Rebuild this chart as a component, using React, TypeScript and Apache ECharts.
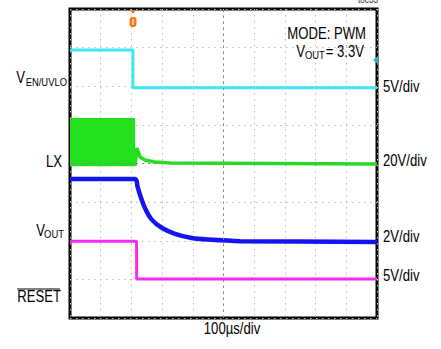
import React, { useEffect, useRef } from "react";
import * as echarts from "echarts";

// time in µs (100 µs/div), levels in screen divisions (0..8 from bottom)
const enUvlo: [number, number][] = [[0, 6.94], [205, 6.94], [205, 5.96], [1000, 5.96]];
const lxBase: [number, number][] = [[0, 3.99], [212, 3.99], [212, 3.94], [218, 4.4], [228, 4.17], [244, 4.09], [277, 4.04], [326, 4.01], [1000, 3.99]];
const lxBurst = { start: 0, end: 212, low: 3.93, high: 5.18 };
const vout: [number, number][] = [[0, 3.6], [212, 3.6], [220, 3.4], [228, 3.19], [244, 2.85], [267, 2.54], [300, 2.33], [342, 2.18], [397, 2.07], [450, 2.03], [554, 1.99], [1000, 1.97]];
const reset: [number, number][] = [[0, 1.99], [217, 1.99], [217, 1.01], [1000, 1.01]];

const FONT = "'Liberation Sans', Arial, sans-serif";
const SX = 0.82;

export default function App() {
  const ref = useRef<HTMLDivElement>(null);
  useEffect(() => {
    if (!ref.current) return;
    const chart = echarts.init(ref.current, null, { renderer: "svg" });
    const txt = (x: number, y: number, text: string, size: number, align: string, extra: any = {}) => ({
      type: "text",
      x,
      y,
      scaleX: SX,
      z: 20,
      style: { text, fontSize: size, fontFamily: FONT, fill: "#000", align, verticalAlign: "middle", ...extra },
    });
    chart.setOption({
      animation: false,
      backgroundColor: "#fff",
      grid: { left: 70, top: 9, width: 307, height: 309, show: true, borderColor: "#000", borderWidth: 3, backgroundColor: "#fff", z: 0 },
      xAxis: {
        type: "value", min: 0, max: 1000, interval: 100,
        axisLabel: { show: false }, axisLine: { show: false },
        axisTick: { show: false },
        splitLine: { show: true, lineStyle: { color: "#b8b8b8", width: 1, type: [1.5, 4.5] } },
      },
      yAxis: {
        type: "value", min: 0, max: 8, interval: 1,
        axisLabel: { show: false }, axisLine: { show: false },
        axisTick: { show: false },
        splitLine: { show: true, lineStyle: { color: "#b8b8b8", width: 1, type: [1.5, 4.5] } },
      },
      series: [
        {
          type: "line", data: [], silent: true,
          markLine: {
            symbol: "none", silent: true, label: { show: false },
            lineStyle: { color: "#8a8a8a", width: 1, type: [2, 4] },
            data: [{ xAxis: 500 }, { yAxis: 4 }],
          },
        },
        {
          name: "EN/UVLO", type: "line", data: enUvlo, symbol: "none", z: 3,
          lineStyle: { color: "#3de8f2", width: 3 },
        },
        {
          name: "LX", type: "line", data: lxBase, symbol: "none", z: 3,
          lineStyle: { color: "#22e01e", width: 3.5 },
          markArea: {
            silent: true,
            itemStyle: { color: "#22e01e", opacity: 1 },
            data: [[{ xAxis: lxBurst.start, yAxis: lxBurst.low }, { xAxis: lxBurst.end, yAxis: lxBurst.high }]],
          },
        },
        {
          name: "VOUT", type: "line", data: vout, symbol: "none", z: 4, smooth: 0.3,
          lineStyle: { color: "#1414f0", width: 4.5 },
        },
        {
          name: "RESET", type: "line", data: reset, symbol: "none", z: 3,
          lineStyle: { color: "#f52af5", width: 3 },
        },
      ],
      graphic: [
        // left labels
        txt(25, 78, "V", 16, "right"),
        txt(67, 82, "EN/UVLO", 11.5, "right"),
        txt(62, 162, "LX", 16, "right"),
        txt(45, 231, "V", 16, "right"),
        txt(64, 234, "OUT", 11.5, "right"),
        txt(61, 297, "RESET", 16, "right"),
        { type: "line", shape: { x1: 17, y1: 289, x2: 60, y2: 289 }, style: { stroke: "#000", lineWidth: 1 } },
        // right labels
        txt(383, 87, "5V/div", 16, "left"),
        txt(383, 161, "20V/div", 16, "left"),
        txt(383, 237, "2V/div", 16, "left"),
        txt(383, 276, "5V/div", 16, "left"),
        // bottom
        txt(232, 329, "100µs/div", 16, "center"),
        // top-right
        txt(366, 34, "MODE: PWM", 16, "right"),
        txt(305, 52, "V", 16, "right"),
        txt(305, 55, "OUT", 11.5, "left"),
        txt(364, 52, "= 3.3V", 16, "right"),
        txt(378, 0, "toc33", 10, "right", { fill: "#333" }),
        // trigger marker
        { type: "polygon", shape: { points: [[130, 10], [136, 10], [133, 14]] }, style: { fill: "#f07a1a" }, z: 10 },
        { type: "rect", shape: { x: 129.5, y: 17, width: 7, height: 10, r: 3 }, style: { fill: "#f07a1a" }, z: 10 },
        { type: "rect", shape: { x: 132.2, y: 19, width: 1.6, height: 6 }, style: { fill: "#ffd9b8" }, z: 11 },
        // channel marker right
        { type: "polygon", shape: { points: [[378, 56], [378, 64], [373, 60]] }, style: { fill: "#2ab5b5" }, z: 10 },
      ],
    });
    return () => chart.dispose();
  }, []);
  return <div ref={ref} style={{ position: "absolute", left: 0, top: 0, width: 441, height: 349 }} />;
}
